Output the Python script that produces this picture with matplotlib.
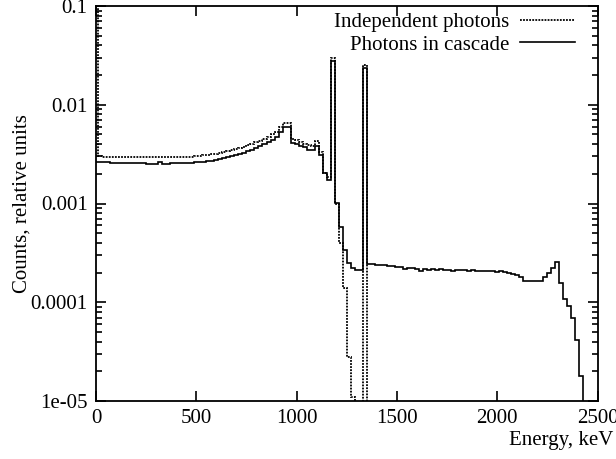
import numpy as np
import matplotlib
matplotlib.use("Agg")
import matplotlib.pyplot as plt
from matplotlib.lines import Line2D
from matplotlib.ticker import FixedLocator, LogLocator, NullFormatter

# Data: 20 keV bins centred at 0, 20, ..., 2500 keV
bin_centers = np.arange(0, 2501, 20)
bin_edges = np.append(bin_centers - 10, bin_centers[-1] + 10)

# Photons in cascade (solid)
cascade = [
    0.00262, 0.00262, 0.00261, 0.00262, 0.00260, 0.00260, 0.00259, 0.00259, 0.00258, 0.00258,   # 0-180
    0.00257, 0.00256, 0.00255, 0.00254, 0.00253, 0.00253, 0.00264, 0.00254, 0.00254, 0.00255,   # 200-380
    0.00255, 0.00256, 0.00257, 0.00258, 0.00259, 0.00261, 0.00263, 0.00265, 0.00268, 0.00271,   # 400-580
    0.00275, 0.00280, 0.00286, 0.00293, 0.00300, 0.00309, 0.00318, 0.00328, 0.00340, 0.00352,   # 600-780
    0.00366, 0.00381, 0.00398, 0.00418, 0.00442, 0.00470, 0.00530, 0.00595, 0.00595, 0.00412,   # 800-980
    0.00400, 0.00382, 0.00370, 0.00352, 0.00350, 0.00380, 0.00310, 0.00205, 0.00172, 0.0275,    # 1000-1180
    0.00101, 0.00058, 0.00034, 0.00025, 0.00022, 0.000212, 0.000210, 0.0235, 0.000245, 0.000243,  # 1200-1380
    0.000236, 0.000238, 0.000240, 0.000233, 0.000231, 0.000226, 0.000228, 0.000218, 0.000222, 0.000224,  # 1400-1580
    0.000219, 0.000206, 0.000219, 0.000214, 0.000215, 0.000214, 0.000216, 0.000214, 0.000211, 0.000206,  # 1600-1780
    0.000213, 0.000210, 0.000212, 0.000209, 0.000211, 0.000207, 0.000205, 0.000206, 0.000208, 0.000207,  # 1800-1980
    0.000204, 0.000205, 0.000201, 0.000199, 0.000195, 0.000190, 0.000180, 0.000165, 0.000163, 0.000164,  # 2000-2180
    0.000163, 0.000165, 0.000182, 0.000199, 0.000222, 0.000258, 0.000155, 0.000109, 9.2e-5, 7.0e-5,     # 2200-2380
    4.1e-5, 1.8e-5, 0, 0, 0, 0,                                                                         # 2400-2500
]

# Independent photons (dotted)
independent = [
    0.15, 0.00300, 0.00298, 0.00299, 0.00297, 0.00298, 0.00296, 0.00297, 0.00295, 0.00296,     # 0-180
    0.00294, 0.00296, 0.00293, 0.00295, 0.00293, 0.00296, 0.00293, 0.00295, 0.00294, 0.00296,   # 200-380
    0.00294, 0.00297, 0.00296, 0.00298, 0.00299, 0.00302, 0.00304, 0.00307, 0.00310, 0.00314,   # 400-580
    0.00319, 0.00324, 0.00331, 0.00338, 0.00346, 0.00355, 0.00365, 0.00376, 0.00388, 0.00402,   # 600-780
    0.00417, 0.00433, 0.00452, 0.00474, 0.00500, 0.00530, 0.00590, 0.00660, 0.00660, 0.00455,   # 800-980
    0.00440, 0.00420, 0.00405, 0.00390, 0.00385, 0.00432, 0.00330, 0.00205, 0.00185, 0.0300,    # 1000-1180
    0.00098, 0.00040, 0.000141, 2.8e-5, 1.1e-5, 0, 0, 0.0255, 0, 0,                             # 1200-1380
] + [0] * 56                                                                                    # 1400-2500

tick_vals = [1e-5, 1e-4, 1e-3, 1e-2, 1e-1]
tick_labels = ["1e-05", "0.0001", "0.001", "0.01", "0.1"]

plt.rcParams['font.family'] = ['Liberation Serif', 'DejaVu Serif']
plt.rcParams['font.size'] = 15

fig = plt.figure(figsize=(6.16, 4.59), dpi=100)
ax = fig.add_axes([96 / 616, 1 - 401 / 459, (597.5 - 96) / 616, (401 - 6) / 459])

floor = 1e-9
ind = np.maximum(np.array(independent, dtype=float), floor)
cas = np.maximum(np.array(cascade, dtype=float), floor)

ax.stairs(ind, bin_edges, baseline=None, color='black', linewidth=1.3, linestyle=(0, (1, 0.7)))
ax.stairs(cas, bin_edges, baseline=None, color='black', linewidth=1.2)

ax.set_yscale('log')
ax.set_xlim(0, 2500)
ax.set_ylim(1e-5, 0.1)

ax.set_xticks([0, 500, 1000, 1500, 2000, 2500])
ax.yaxis.set_major_locator(FixedLocator(tick_vals))
ax.set_yticklabels(tick_labels)
ax.yaxis.set_minor_locator(LogLocator(base=10, subs=np.arange(2, 10)))
ax.yaxis.set_minor_formatter(NullFormatter())

ax.tick_params(which='both', direction='in', top=True, right=True, width=1.2)
ax.tick_params(which='major', length=7, pad=6)
ax.tick_params(which='minor', length=4)
for s in ax.spines.values():
    s.set_linewidth(1.3)

ax.set_ylabel('Counts, relative units')
ax.yaxis.set_label_coords(-0.128, 0.5)
fig.text(613 / 616, 1 - 440 / 459, 'Energy, keV', ha='right', va='center')

handles = [Line2D([], [], color='black', linewidth=1.3, linestyle=(0, (1, 0.7))),
           Line2D([], [], color='black', linewidth=1.2)]
ax.legend(handles, ['Independent photons', 'Photons in cascade'], loc='upper right',
          frameon=False, markerfirst=False, handlelength=2.6, handletextpad=0.55,
          labelspacing=0.15, borderaxespad=0.0, bbox_to_anchor=(0.971, 1.005))

fig.savefig('out.png', dpi=100)
